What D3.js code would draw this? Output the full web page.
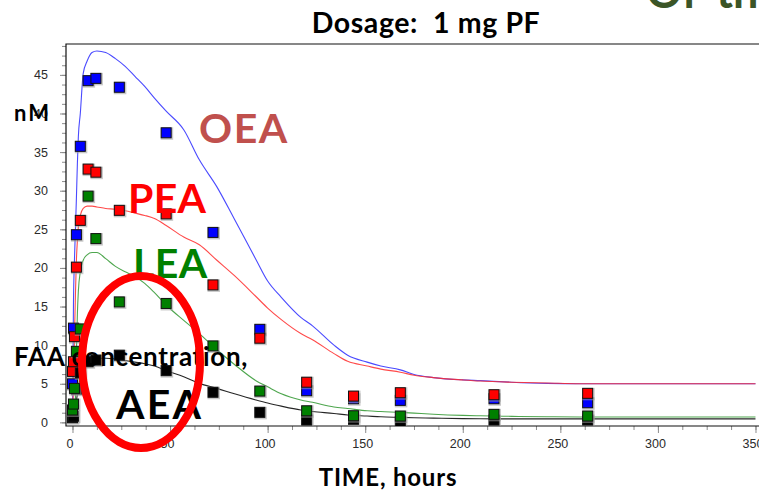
<!DOCTYPE html>
<html>
<head>
<meta charset="utf-8">
<script src="https://cdn.jsdelivr.net/npm/d3@7"></script>
<style>
  html, body { margin: 0; padding: 0; background: #fff; overflow: hidden; }
  svg { display: block; }
  text { white-space: pre; }
</style>
</head>
<body>
<svg id="chart" width="759" height="491"></svg>
<script>
// Sampling times (hours) of the measured concentrations
const sampleTimes = [0, 0.5, 1, 2, 4, 8, 12, 24, 48, 72, 96, 120, 144, 168, 216, 264];

// Measured FAA concentrations, nM (null = no sample drawn)
const oeaObserved = [5.0, 12.2, null, 24.3, 35.75, 44.25, 44.55, 43.4, 37.5, 24.6, 12.05, 4.1, 3.06, 2.85, 3.06, 2.54];
const peaObserved = [6.6, 7.85, 11.1, 20.1, 26.16, 32.8, 32.4, 27.46, 27.0, 17.8, 10.9, 5.2, 3.4, 3.84, 3.58, 3.76];
const leaObserved = [1.6, 2.37, 4.4, 9.2, 12.1, 29.3, 23.8, 15.6, 15.4, 9.9, 4.05, 1.5, 0.86, 0.82, 1.04, 0.82];
const aeaObserved = [0.6, 0.8, null, 4.3, 6.4, 7.85, 8.07, 8.7, 6.7, 3.9, 1.3, 0.3, 0.4, 0.08, 0.3, 0.3];

// Model fit curves, evaluated on a common time grid (hours)
const fitTimes = [0, 0.5, 1, 1.5, 2, 2.5, 3, 4, 5.5, 7.5, 10, 12.5, 17, 22, 27, 32, 37, 42, 48, 57, 65, 74, 83, 94, 100, 107, 117, 123, 134, 141, 151, 158, 168, 175, 185, 200, 209, 225, 243, 260, 280, 300, 350];
const oeaFit = [0, 15.5, 21, 25, 29, 33.5, 37, 40, 45.2, 46.8, 47.9, 48.1, 47.9, 47.1, 46.1, 44.8, 43.5, 42.0, 40.3, 37.9, 34.0, 30.5, 26.3, 21.1, 18.3, 16.2, 13.6, 12.5, 10.0, 8.7, 7.8, 7.3, 6.8, 6.2, 5.8, 5.5, 5.4, 5.2, 5.05, 5.0, 5.0, 5.0, 5.0];
const peaFit = [0, 5, 11, 16.5, 21, 23.5, 25.3, 26.8, 27.7, 28.0, 28.0, 27.9, 27.7, 27.6, 27.4, 27.1, 26.8, 26.4, 25.5, 24.0, 23.0, 21.0, 19.0, 16.3, 14.8, 13.3, 11.5, 10.7, 8.9, 7.9, 7.3, 6.9, 6.5, 6.1, 5.8, 5.5, 5.35, 5.2, 5.1, 5.0, 5.0, 5.0, 5.0];
const leaFit = [0, 0, 0, 3, 9, 14, 17, 19.5, 21, 21.7, 22.0, 22.0, 21.2, 20.2, 19.5, 18.9, 18.0, 16.8, 15.2, 13.2, 11.5, 9.4, 7.5, 5.4, 4.6, 3.7, 2.9, 2.6, 2.0, 1.8, 1.5, 1.4, 1.3, 1.2, 1.05, 0.9, 0.85, 0.78, 0.73, 0.7, 0.7, 0.7, 0.7];
const aeaFit = [0, 0, 0.5, 1.5, 2.7, 3.7, 4.5, 5.8, 6.9, 7.7, 8.1, 8.3, 8.3, 8.2, 8.0, 7.8, 7.6, 7.3, 6.7, 5.9, 5.05, 4.4, 3.7, 2.9, 2.5, 2.1, 1.6, 1.4, 1.15, 0.95, 0.82, 0.72, 0.65, 0.6, 0.55, 0.48, 0.46, 0.45, 0.45, 0.45, 0.45, 0.45, 0.45];

// Axis ticks
const yMajorTicks = [0, 5, 10, 15, 20, 25, 30, 35, 40, 45];
const yMinorTicks = d3.range(0, 49, 1.25);
const xMajorTicks = [0, 50, 100, 150, 200, 250, 300, 350];
const xMinorTicks = d3.range(0, 361, 12.5);

// Text
const titleText = "Dosage:  1 mg PF";
const cornerText = "Of the";
const yUnitText = "nM";
const yLabelText = "FAA concentration,";
const xLabelText = "TIME, hours";

const svg = d3.select("#chart");

const plotLeft = 66, plotTop = 44, plotBottom = 426, plotRight = 775;
const x = d3.scaleLinear().domain([-3.33, 360]).range([plotLeft, plotRight]);
const y = d3.scaleLinear().domain([-0.47, 49]).range([plotBottom, plotTop]);

const series = [
  { name: "OEA", obs: oeaObserved, fit: oeaFit, fill: "#0000ff", line: "#2a2aff" },
  { name: "PEA", obs: peaObserved, fit: peaFit, fill: "#ff0000", line: "#ff2a2a" },
  { name: "AEA", obs: aeaObserved, fit: aeaFit, fill: "#000000", line: "#000000" },
  { name: "LEA", obs: leaObserved, fit: leaFit, fill: "#008000", line: "#2f962f" }
];

// Axes: minor ticks first, then major ticks with labels
const tickFont = "'Liberation Sans', Arial, sans-serif";

const yMinor = svg.append("g").attr("transform", `translate(${plotLeft},0)`)
  .call(d3.axisLeft(y).tickValues(yMinorTicks).tickSize(4).tickFormat(""));
const yMajor = svg.append("g").attr("transform", `translate(${plotLeft},0)`)
  .call(d3.axisLeft(y).tickValues(yMajorTicks).tickSize(6).tickPadding(12).tickFormat(d3.format("d")));
const xMinor = svg.append("g").attr("transform", `translate(0,${plotBottom})`)
  .call(d3.axisBottom(x).tickValues(xMinorTicks).tickSize(4).tickFormat(""));
const xMajor = svg.append("g").attr("transform", `translate(0,${plotBottom})`)
  .call(d3.axisBottom(x).tickValues(xMajorTicks).tickSize(7).tickPadding(6).tickFormat(d3.format("d")));

[yMinor, yMajor, xMinor, xMajor].forEach(g => {
  g.select(".domain").remove();
  g.selectAll(".tick line").attr("stroke", "#8c8c8c");
  g.selectAll(".tick text").attr("font-family", tickFont).attr("font-size", 12.5).attr("fill", "#2b2b2b");
});
xMajor.selectAll(".tick text").attr("dx", -3);

// Plot frame (left, top, bottom)
svg.append("path")
  .attr("d", `M${plotRight},${plotTop}H${plotLeft}V${plotBottom}H${plotRight}`)
  .attr("fill", "none").attr("stroke", "#111").attr("stroke-width", 1.2);

// Clip for marks
svg.append("clipPath").attr("id", "plotClip")
  .append("rect").attr("x", plotLeft).attr("y", plotTop).attr("width", plotRight - plotLeft).attr("height", plotBottom - plotTop);

const marks = svg.append("g").attr("clip-path", "url(#plotClip)");

// Fit curves
const line = d3.line()
  .defined(d => d[1] != null)
  .x(d => x(d[0]))
  .y(d => y(d[1]))
  .curve(d3.curveMonotoneX);

series.forEach(s => {
  marks.append("path")
    .datum(fitTimes.map((t, i) => [t, s.fit[i]]))
    .attr("d", line)
    .attr("fill", "none")
    .attr("stroke", s.line)
    .attr("stroke-opacity", 0.85)
    .attr("stroke-width", 1.1);
});

// Observed points: square markers with a soft grey shadow
const size = 10;
series.forEach(s => {
  const pts = sampleTimes.map((t, i) => [t, s.obs[i]]).filter(d => d[1] != null);
  const g = marks.append("g");
  g.selectAll("rect.shadow").data(pts).join("rect")
    .attr("class", "shadow")
    .attr("x", d => x(d[0]) - size / 2 - 0.5)
    .attr("y", d => y(d[1]) - size / 2 - 0.5)
    .attr("width", size + 2.5).attr("height", size + 2.5)
    .attr("fill", "#9a9a9a").attr("opacity", 0.55);
  g.selectAll("rect.pt").data(pts).join("rect")
    .attr("class", "pt")
    .attr("x", d => x(d[0]) - size / 2)
    .attr("y", d => y(d[1]) - size / 2)
    .attr("width", size).attr("height", size)
    .attr("fill", s.fill)
    .attr("stroke", "#111").attr("stroke-width", 1);
});

// Titles and labels
const labelFont = "Lato, 'Open Sans', sans-serif";

svg.append("text").attr("x", 426).attr("y", 33).attr("text-anchor", "middle")
  .attr("font-family", labelFont).attr("font-weight", 700).attr("font-size", 28.5)
  .attr("letter-spacing", 0.6)
  .attr("fill", "#000").text(titleText);

svg.append("text").attr("x", 646).attr("y", 8)
  .attr("font-family", labelFont).attr("font-weight", 700).attr("font-size", 45)
  .attr("word-spacing", 8)
  .attr("fill", "#3b5527").text(cornerText);

svg.append("text").attr("x", 14).attr("y", 121)
  .attr("font-family", labelFont).attr("font-weight", 700).attr("font-size", 22)
  .attr("letter-spacing", 2)
  .attr("fill", "#000").text(yUnitText);

svg.append("text").attr("x", 388).attr("y", 486).attr("text-anchor", "middle")
  .attr("font-family", labelFont).attr("font-weight", 700).attr("font-size", 24)
  .attr("letter-spacing", 0.8)
  .attr("fill", "#000").text(xLabelText);

// Compound names placed beside their curves
const compoundLabels = [
  { text: "OEA", x: 199, y: 143, color: "#c0504d", spacing: 1.5 },
  { text: "PEA", x: 128, y: 213, color: "#ff0000", spacing: 0.3 },
  { text: "LEA", x: 133, y: 278, color: "#008000", spacing: 0.5 },
  { text: "AEA", x: 116, y: 419, color: "#000000", spacing: 2.2 }
];
compoundLabels.forEach(l => {
  svg.append("text").attr("x", l.x).attr("y", l.y)
    .attr("font-family", labelFont).attr("font-weight", 700).attr("font-size", 41)
    .attr("letter-spacing", l.spacing)
    .attr("fill", l.color).text(l.text);
});

svg.append("text").attr("x", 14).attr("y", 366)
  .attr("font-family", labelFont).attr("font-weight", 700).attr("font-size", 26)
  .attr("letter-spacing", 0.7)
  .attr("fill", "#000").text(yLabelText);

// Highlight ring around the AEA profile
svg.append("ellipse")
  .attr("cx", 141).attr("cy", 362).attr("rx", 59).attr("ry", 86)
  .attr("fill", "none").attr("stroke", "#ff0000").attr("stroke-width", 8);
</script>
</body>
</html>
